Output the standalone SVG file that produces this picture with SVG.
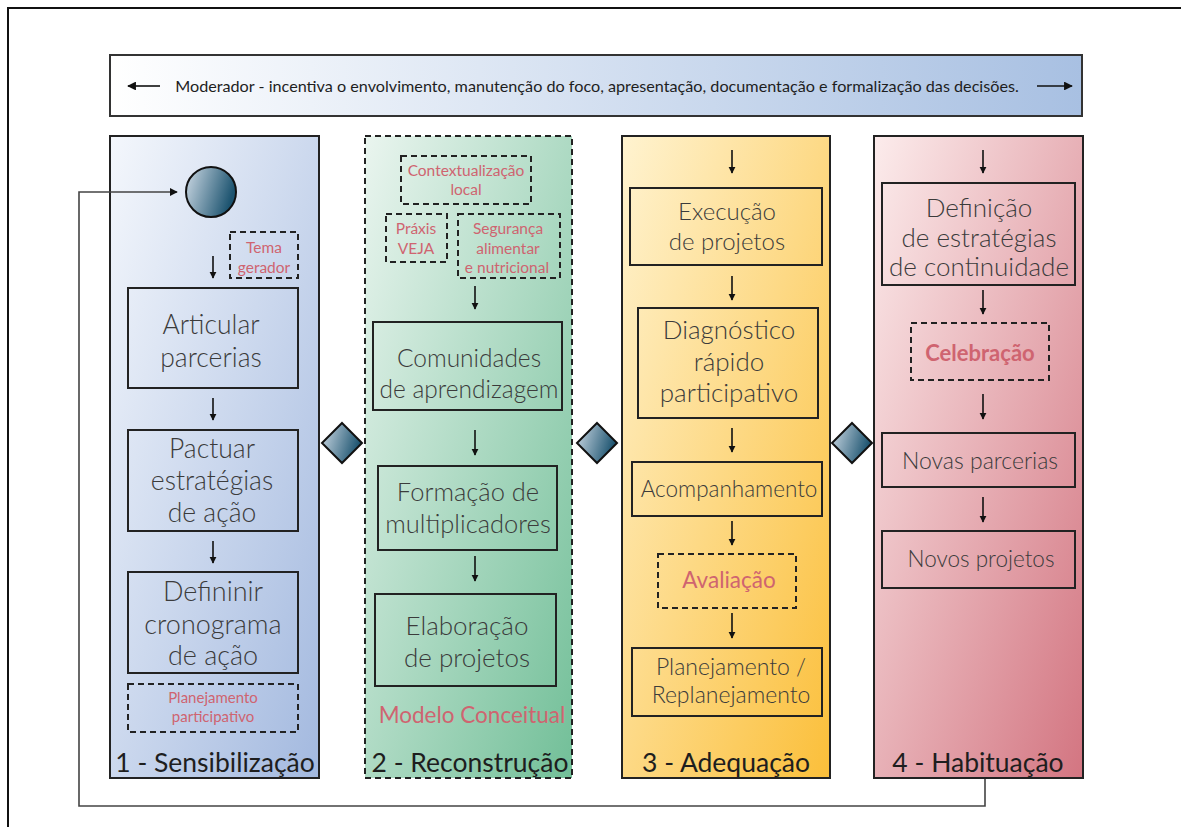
<svg xmlns="http://www.w3.org/2000/svg" width="1181" height="827" viewBox="0 0 1181 827">
<defs>
<linearGradient id="gBan" x1="0" y1="0" x2="1" y2="0"><stop offset="0" stop-color="#ffffff"/><stop offset="1" stop-color="#a8c0e2"/></linearGradient>
<linearGradient id="g1" x1="0" y1="0" x2="1" y2="1"><stop offset="0" stop-color="#f4f7fc"/><stop offset="1" stop-color="#a3b9df"/></linearGradient>
<linearGradient id="g2" x1="0" y1="0" x2="1" y2="1"><stop offset="0" stop-color="#eaf5ef"/><stop offset="1" stop-color="#72bf98"/></linearGradient>
<linearGradient id="g3" x1="0" y1="0" x2="1" y2="1"><stop offset="0" stop-color="#fff3d0"/><stop offset="1" stop-color="#fbbf3a"/></linearGradient>
<linearGradient id="g4" x1="0" y1="0" x2="1" y2="1"><stop offset="0" stop-color="#fcecec"/><stop offset="1" stop-color="#d37581"/></linearGradient>
<linearGradient id="gDot" x1="0" y1="0" x2="1" y2="0.3"><stop offset="0" stop-color="#cfdbe6"/><stop offset="1" stop-color="#1d5470"/></linearGradient>
<marker id="ah" viewBox="0 0 10 10" refX="9" refY="5" markerWidth="4.5" markerHeight="4.5" orient="auto"><path d="M0,0 L10,5 L0,10 Z" fill="#111"/></marker>
<marker id="ahB" viewBox="0 0 10 10" refX="9" refY="5" markerWidth="5.5" markerHeight="5.5" orient="auto"><path d="M0,0 L10,5 L0,10 Z" fill="#111"/></marker>
<marker id="ahL" viewBox="0 0 10 10" refX="9" refY="5" markerWidth="5" markerHeight="5" orient="auto"><path d="M0,0 L10,5 L0,10 Z" fill="#111"/></marker>
</defs>
<style>
.col{stroke:#222;stroke-width:2}
.box{fill:none;stroke:#222;stroke-width:2}
.dbox{fill:none;stroke:#222;stroke-width:2;stroke-dasharray:6,4}
.t{font-family:Lato,"Open Sans","Liberation Sans",sans-serif;font-weight:300;fill:#3b3b3b;text-anchor:middle}
.r{font-family:Lato,"Open Sans","Liberation Sans",sans-serif;fill:#cf6470;text-anchor:middle}
.h{font-family:Lato,"Open Sans","Liberation Sans",sans-serif;fill:#1e1e1e;text-anchor:middle;font-size:26.5px}
.arr{stroke:#111;stroke-width:1.6;fill:none;marker-end:url(#ah)}
.barr{stroke:#111;stroke-width:1.6;fill:none;marker-end:url(#ahB)}
.dia{fill:url(#gDot);stroke:#111;stroke-width:2}
</style>
<rect width="1181" height="827" fill="#fff"/>
<path d="M8,827 V8 H1181" fill="none" stroke="#111" stroke-width="2"/>

<g id="banner">
<rect x="110" y="55" width="972" height="61" fill="url(#gBan)" stroke="#333" stroke-width="2"/>
<text x="597" y="92" font-family="Lato,'Open Sans','Liberation Sans',sans-serif" font-size="16.2" fill="#1e1e1e" text-anchor="middle">Moderador - incentiva o envolvimento, manutenção do foco, apresentação, documentação e formalização das decisões.</text>
<line x1="160" y1="86" x2="128" y2="86" class="barr"/>
<line x1="1037" y1="86" x2="1072" y2="86" class="barr"/>
</g>

<g id="col1">
<rect x="110" y="136" width="209" height="642" fill="url(#g1)" class="col"/>
<text x="215" y="772" class="h">1 - Sensibilização</text>
</g>
<g id="col2">
<rect x="365" y="136" width="207" height="642" fill="url(#g2)" stroke="#222" stroke-width="2" stroke-dasharray="6,4"/>
<text x="470" y="772" class="h">2 - Reconstrução</text>
<text x="472" y="723" class="r" font-size="22.5">Modelo Conceitual</text>
</g>
<g id="col3">
<rect x="622" y="136" width="208" height="642" fill="url(#g3)" class="col"/>
<text x="726" y="772" class="h">3 - Adequação</text>
</g>
<g id="col4">
<rect x="874" y="136" width="209" height="642" fill="url(#g4)" class="col"/>
<text x="978" y="772" class="h">4 - Habituação</text>
</g>

<g id="start"><circle cx="211" cy="192" r="25" fill="url(#gDot)" stroke="#111" stroke-width="2"/></g>
<g id="tema"><rect x="230" y="232" width="68" height="46" class="dbox"/>
<text x="264" y="253" class="r" font-size="15.5">Tema</text><text x="264" y="273" class="r" font-size="15.5">gerador</text></g>
<g id="articular"><rect x="128" y="288" width="170" height="100" class="box"/>
<text x="211" y="334" class="t" font-size="26.5">Articular</text><text x="211" y="367" class="t" font-size="26.5">parcerias</text></g>
<g id="pactuar"><rect x="128" y="430" width="170" height="101" class="box"/>
<text x="212" y="458" class="t" font-size="26.5">Pactuar</text><text x="212" y="490" class="t" font-size="26.5">estratégias</text><text x="212" y="522" class="t" font-size="26.5">de ação</text></g>
<g id="definir"><rect x="128" y="572" width="170" height="101" class="box"/>
<text x="213" y="601" class="t" font-size="27">Defininir</text><text x="213" y="634" class="t" font-size="27">cronograma</text><text x="213" y="665" class="t" font-size="27">de ação</text></g>
<g id="planpart"><rect x="128" y="684" width="170" height="48" class="dbox"/>
<text x="213" y="703" class="r" font-size="15">Planejamento</text><text x="213" y="722" class="r" font-size="15">participativo</text></g>

<g id="context"><rect x="401" y="156" width="130" height="48" class="dbox"/>
<text x="466" y="176" class="r" font-size="15.5">Contextualização</text><text x="466" y="195" class="r" font-size="15.5">local</text></g>
<g id="praxis"><rect x="386" y="214" width="61" height="48" class="dbox"/>
<text x="416" y="234" class="r" font-size="15.5">Práxis</text><text x="416" y="254" class="r" font-size="15.5">VEJA</text></g>
<g id="seguranca"><rect x="458" y="214" width="102" height="64" class="dbox"/>
<text x="508" y="234" class="r" font-size="15.5">Segurança</text><text x="508" y="254" class="r" font-size="15.5">alimentar</text><text x="507" y="273" class="r" font-size="15.5">e nutricional</text></g>
<g id="comunidades"><rect x="373" y="322" width="189" height="88" class="box"/>
<text x="469" y="367" class="t" font-size="24.5">Comunidades</text><text x="469" y="398" class="t" font-size="24.5">de aprendizagem</text></g>
<g id="formacao"><rect x="378" y="466" width="179" height="84" class="box"/>
<text x="468" y="501" class="t" font-size="25.5">Formação de</text><text x="468" y="533" class="t" font-size="25.5">multiplicadores</text></g>
<g id="elaboracao"><rect x="375" y="594" width="181" height="92" class="box"/>
<text x="467" y="635" class="t" font-size="26">Elaboração</text><text x="467" y="667" class="t" font-size="26">de projetos</text></g>

<g id="execucao"><rect x="630" y="188" width="192" height="77" class="box"/>
<text x="727" y="220" class="t" font-size="24">Execução</text><text x="727" y="250" class="t" font-size="24">de projetos</text></g>
<g id="diagnostico"><rect x="638" y="308" width="180" height="110" class="box"/>
<text x="729" y="339" class="t" font-size="26">Diagnóstico</text><text x="729" y="371" class="t" font-size="26">rápido</text><text x="729" y="402" class="t" font-size="26">participativo</text></g>
<g id="acompanhamento"><rect x="632" y="462" width="190" height="54" class="box"/>
<text x="729" y="497" class="t" font-size="22.5">Acompanhamento</text></g>
<g id="avaliacao"><rect x="658" y="554" width="138" height="54" class="dbox"/>
<text x="729" y="588" class="r" font-size="22.5">Avaliação</text></g>
<g id="planejamento"><rect x="632" y="648" width="190" height="68" class="box"/>
<text x="731" y="675" class="t" font-size="23">Planejamento /</text><text x="731" y="703" class="t" font-size="23">Replanejamento</text></g>

<g id="definicao"><rect x="882" y="183" width="193" height="102" class="box"/>
<text x="979" y="217" class="t" font-size="26">Definição</text><text x="979" y="247" class="t" font-size="26">de estratégias</text><text x="979" y="276" class="t" font-size="26">de continuidade</text></g>
<g id="celebracao"><rect x="911" y="323" width="138" height="57" class="dbox"/>
<text x="980" y="361" class="r" font-size="22" font-weight="bold">Celebração</text></g>
<g id="novasparcerias"><rect x="882" y="433" width="193" height="54" class="box"/>
<text x="980" y="469" class="t" font-size="23">Novas parcerias</text></g>
<g id="novosprojetos"><rect x="882" y="531" width="193" height="57" class="box"/>
<text x="981" y="567" class="t" font-size="22.5">Novos projetos</text></g>

<g id="gateways">
<path d="M342,423 L362,443 L342,463 L322,443 Z" class="dia"/>
<path d="M597,423 L617,443 L597,463 L577,443 Z" class="dia"/>
<path d="M852,423 L872,443 L852,463 L832,443 Z" class="dia"/>
</g>

<g id="connectors">
<line x1="213" y1="256" x2="213" y2="278" class="arr"/>
<line x1="213" y1="398" x2="213" y2="420" class="arr"/>
<line x1="213" y1="541" x2="213" y2="563" class="arr"/>
<line x1="475" y1="286" x2="475" y2="309" class="arr"/>
<line x1="475" y1="430" x2="475" y2="455" class="arr"/>
<line x1="475" y1="556" x2="475" y2="581" class="arr"/>
<line x1="732" y1="150" x2="732" y2="173" class="arr"/>
<line x1="732" y1="276" x2="732" y2="300" class="arr"/>
<line x1="732" y1="428" x2="732" y2="452" class="arr"/>
<line x1="732" y1="521" x2="732" y2="545" class="arr"/>
<line x1="732" y1="613" x2="732" y2="638" class="arr"/>
<line x1="983" y1="150" x2="983" y2="173" class="arr"/>
<line x1="983" y1="290" x2="983" y2="314" class="arr"/>
<line x1="983" y1="394" x2="983" y2="419" class="arr"/>
<line x1="983" y1="497" x2="983" y2="522" class="arr"/>
<path d="M985,779 V806 H79 V192 H177" fill="none" stroke="#444" stroke-width="1.6" marker-end="url(#ahL)"/>
</g>
</svg>
